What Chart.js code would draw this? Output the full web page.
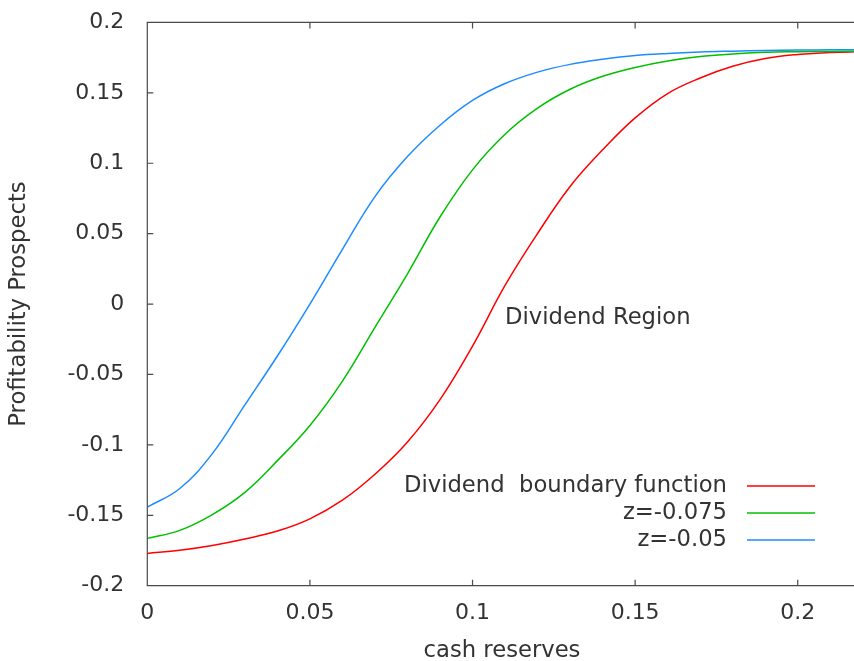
<!DOCTYPE html>
<html>
<head>
<meta charset="utf-8">
<script src="https://cdn.jsdelivr.net/npm/chart.js@4.4.1/dist/chart.umd.min.js"></script>
<style>
  html, body { margin: 0; padding: 0; background: #fff; overflow: hidden; }
  #wrap { width: 854px; height: 661px; position: relative; }
</style>
</head>
<body>
<div id="wrap"><canvas id="chart"></canvas></div>
<script>
// values
const cashReserves = [0, 0.01, 0.02, 0.03, 0.04, 0.05, 0.06, 0.07, 0.08, 0.09, 0.10,
  0.11, 0.12, 0.13, 0.14, 0.15, 0.16, 0.17, 0.18, 0.19, 0.20, 0.21, 0.22];
const boundaryFn = [-0.1771, -0.1748, -0.1714, -0.1668, -0.1612, -0.1525, -0.1393, -0.1209, -0.0980, -0.0679, -0.0299,
  0.0132, 0.0501, 0.0835, 0.1095, 0.1322, 0.1495, 0.1605, 0.1688, 0.1743, 0.1772, 0.1787, 0.1792];
const zMinus075 = [-0.1664, -0.1607, -0.1495, -0.1337, -0.1112, -0.0862, -0.0547, -0.0165, 0.0215, 0.0618, 0.0953,
  0.1206, 0.1391, 0.1525, 0.1617, 0.1680, 0.1726, 0.1757, 0.1775, 0.1788, 0.1792, 0.1794, 0.1795];
const zMinus05 = [-0.1442, -0.1310, -0.1062, -0.0716, -0.0369, 0.0000, 0.0388, 0.0763, 0.1047, 0.1270, 0.1446,
  0.1566, 0.1647, 0.1702, 0.1738, 0.1765, 0.1780, 0.1790, 0.1796, 0.1801, 0.1804, 0.1805, 0.1806];

const seriesLabels = ["Dividend  boundary function", "z=-0.075", "z=-0.05"];
const seriesColors = ["#ff0000", "#00c000", "#1e8cff"];
const xTicks = [0, 0.05, 0.1, 0.15, 0.2];
const yTicks = [-0.2, -0.15, -0.1, -0.05, 0, 0.05, 0.1, 0.15, 0.2];
const xTitle = "cash reserves";
const yTitle = "Profitability Prospects";
const regionLabel = "Dividend Region";

const FONT = "DejaVu Sans, Verdana, sans-serif";
const TEXT = "#333333";
const AXIS = "#4a4a4a";

const fmt = v => String(Number(v.toFixed(3)));
const points = ys => cashReserves.map((x, i) => ({ x, y: ys[i] }));

// gnuplot-like frame, inward ticks, titles, label and key
const decor = {
  id: "decor",
  afterDraw(chart) {
    const { ctx, chartArea: a, scales: { x, y } } = chart;
    ctx.save();
    ctx.strokeStyle = AXIS;
    ctx.lineWidth = 1.2;
    ctx.beginPath();
    ctx.moveTo(a.right, a.top); ctx.lineTo(a.left, a.top);
    ctx.lineTo(a.left, a.bottom); ctx.lineTo(a.right, a.bottom);
    xTicks.forEach(v => {
      const px = x.getPixelForValue(v);
      ctx.moveTo(px, a.bottom); ctx.lineTo(px, a.bottom - 6);
      ctx.moveTo(px, a.top); ctx.lineTo(px, a.top + 6);
    });
    yTicks.forEach(v => {
      const py = y.getPixelForValue(v);
      ctx.moveTo(a.left, py); ctx.lineTo(a.left + 6, py);
    });
    ctx.stroke();

    ctx.fillStyle = TEXT;
    ctx.font = "22.7px " + FONT;
    ctx.textBaseline = "middle";
    ctx.textAlign = "center";
    ctx.fillText(xTitle, 502, 651);
    ctx.save();
    ctx.translate(19, (a.top + a.bottom) / 2);
    ctx.rotate(-Math.PI / 2);
    ctx.fillText(yTitle, 0, 0);
    ctx.restore();

    ctx.textAlign = "left";
    ctx.fillText(regionLabel, x.getPixelForValue(0.11), y.getPixelForValue(-0.0101));

    ctx.textAlign = "right";
    seriesLabels.forEach((label, i) => {
      const ly = 486 + i * 27;
      ctx.fillStyle = TEXT;
      ctx.fillText(label, 727, ly);
      ctx.strokeStyle = seriesColors[i];
      ctx.lineWidth = 1.5;
      ctx.beginPath();
      ctx.moveTo(747, ly); ctx.lineTo(815, ly);
      ctx.stroke();
    });
    ctx.restore();
  }
};

new Chart(document.getElementById("chart"), {
  type: "line",
  data: {
    datasets: [boundaryFn, zMinus075, zMinus05].map((ys, i) => ({
      label: seriesLabels[i],
      data: points(ys),
      borderColor: seriesColors[i],
      borderWidth: 1.5,
      pointRadius: 0,
      tension: 0.4,
      fill: false,
      order: 2 - i
    }))
  },
  options: {
    responsive: true,
    maintainAspectRatio: false,
    animation: false,
    layout: { padding: { top: 22.4, left: 0, right: 0, bottom: 0 } },
    plugins: { legend: { display: false }, tooltip: { enabled: false } },
    scales: {
      x: {
        type: "linear", min: 0, max: 0.2173,
        afterBuildTicks: s => { s.ticks = xTicks.map(v => ({ value: v })); },
        afterFit: s => { s.height = 75.3; s.paddingRight = 0; },
        grid: { display: false, drawTicks: false },
        border: { display: false },
        ticks: { color: TEXT, font: { family: FONT, size: 22 }, padding: 14, maxRotation: 0, autoSkip: false, callback: fmt }
      },
      y: {
        type: "linear", min: -0.2, max: 0.2,
        afterBuildTicks: s => { s.ticks = yTicks.map(v => ({ value: v })); },
        afterFit: s => { s.width = 147.3; s.paddingTop = 22.4; s.paddingBottom = 0; },
        grid: { display: false, drawTicks: false },
        border: { display: false },
        ticks: { color: TEXT, font: { family: FONT, size: 22 }, padding: 23, autoSkip: false, callback: fmt }
      }
    }
  },
  plugins: [decor]
});
</script>
</body>
</html>
